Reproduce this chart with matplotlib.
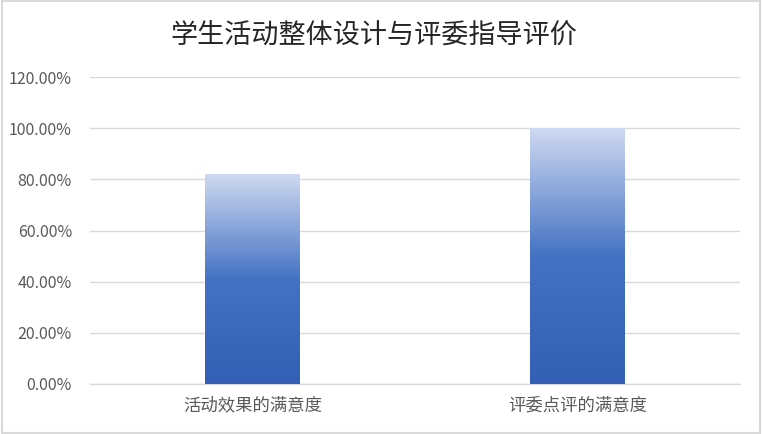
import matplotlib
matplotlib.use("Agg")
import matplotlib.pyplot as plt
import numpy as np
from matplotlib.colors import LinearSegmentedColormap
from matplotlib.patches import Rectangle
from matplotlib.ticker import FuncFormatter

plt.rcParams['font.family'] = ['Noto Sans CJK SC', 'DejaVu Sans']

categories = ['活动效果的满意度', '评委点评的满意度']
values = [82.0, 100.0]
title = '学生活动整体设计与评委指导评价'

fig = plt.figure(figsize=(7.62, 4.34), dpi=100)
ax = fig.add_axes([90 / 762, 1 - 384 / 434, 650 / 762, 307 / 434])

# gradient: light at top, blue in the middle, a bit darker at bottom
cmap = LinearSegmentedColormap.from_list(
    'grad', [(0.0, '#335fb4'), (0.5, '#4472c4'), (1.0, '#cfd9f1')])
grad = np.linspace(0, 1, 256).reshape(-1, 1)

x = np.arange(len(categories))
width = 0.29
bars = ax.bar(x, values, width=width, color='none', zorder=3)
for b in bars:
    x0, y0 = b.get_x(), b.get_y()
    w, h = b.get_width(), b.get_height()
    im = ax.imshow(grad, cmap=cmap, origin='lower', aspect='auto',
                   extent=[x0, x0 + w, y0, y0 + h], zorder=3)
    im.set_clip_path(b)

ax.set_xlim(-0.5, 1.5)
ax.set_ylim(0, 120)
ax.set_yticks(np.arange(0, 121, 20))
ax.yaxis.set_major_formatter(FuncFormatter(lambda v, p: '%.2f%%' % v))
ax.set_xticks(x)
ax.set_xticklabels(categories)
ax.grid(axis='y', color='#d9d9d9', linewidth=1, zorder=0)
for s in ['top', 'right', 'left']:
    ax.spines[s].set_visible(False)
ax.spines['bottom'].set_color('#d9d9d9')
ax.spines['bottom'].set_linewidth(1)
ax.tick_params(axis='both', length=0, labelcolor='#595959')
ax.tick_params(axis='x', pad=9, labelsize=12.5)
ax.tick_params(axis='y', pad=13, labelsize=11.5)

fig.text(374 / 762, 1 - 35 / 434, title, ha='center', va='center',
         fontsize=19.5, fontweight='medium', color='#262626')

fig.patches.append(Rectangle((0.002, 0.003), 0.996, 0.994, transform=fig.transFigure,
                             fill=False, edgecolor='#d9d9d9', linewidth=1.5))

fig.savefig('out.png', dpi=100)
